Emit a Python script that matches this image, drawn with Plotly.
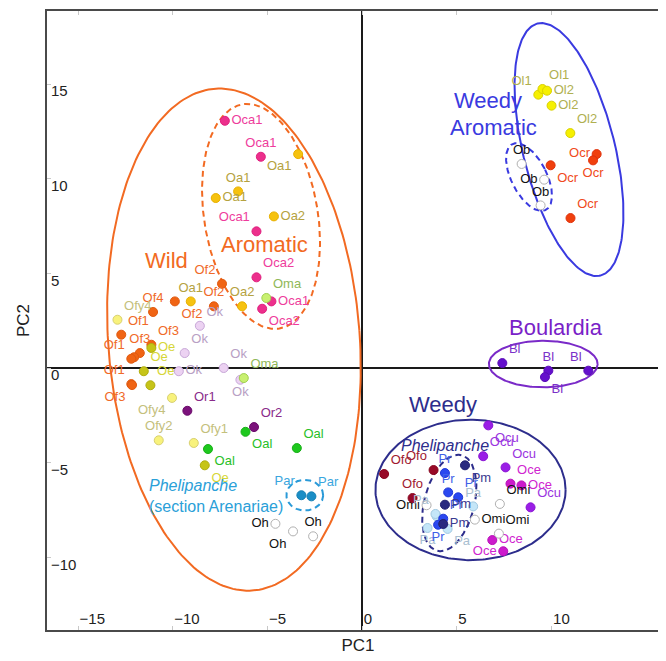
import numpy as np
import plotly.graph_objects as go

# ---------------- data (PC1, PC2) ----------------
oca_x = [-7.25, -5.35, -5.58, -5.58, -4.79, -5.28]
oca_y = [13.06, 11.16, 7.22, 4.79, 3.52, 3.13]
oca_lab = ["Oca1", "Oca1", "Oca1", "Oca2", "Oca1", "Oca2"]

oa_x = [-3.38, -6.55, -7.73, -4.66, -6.34, -9.05]
oa_y = [11.30, 9.33, 8.98, 8.01, 3.26, 3.52]
oa_lab = ["Oa1", "Oa1", "Oa1", "Oa2", "Oa2", "Oa1"]

of_x = [-7.40, -7.83, -11.04, -9.89, -12.72, -11.13, -11.74, -12.04, -12.19, -12.19, -12.15]
of_y = [4.45, 3.26, 2.96, 3.52, 1.76, 1.23, 0.79, 0.57, 0.49, -0.85, -0.90]
of_lab = ["Of2", "Of2", "Of4", "Of2", "Of1", "Of3", "Of3", "", "Of1", "Of1", "Of3"]

ofy_x = [-12.92, -10.04, -10.74, -8.89]
ofy_y = [2.55, -1.58, -3.82, -3.96]
ofy_lab = ["Ofy4", "Ofy4", "Ofy2", "Ofy1"]

oe_x = [-11.13, -11.53, -11.18, -8.31]
oe_y = [1.06, -0.17, -0.91, -5.14]
oe_lab = ["Oe", "Oe", "Oe", "Oe"]

ok_x = [-8.57, -9.37, -9.68, -7.31, -6.43]
ok_y = [2.23, 0.79, -0.17, 0.00, -0.62]
ok_lab = ["Ok", "Ok", "Ok", "Ok", "Ok"]

oma_x = [-5.06, -6.25]
oma_y = [3.70, -0.53]
oma_lab = ["Oma", "Oma"]

or_x = [-9.23, -5.71]
or_y = [-2.26, -3.12]
or_lab = ["Or1", "Or2"]

oal_x = [-6.16, -8.14, -3.45]
oal_y = [-3.37, -4.28, -4.23]
oal_lab = ["Oal", "Oal", "Oal"]

par_x = [-3.21, -2.68]
par_y = [-6.72, -6.78]
par_lab = ["Par", "Par"]

oh_x = [-4.58, -3.65, -2.59]
oh_y = [-8.23, -8.63, -8.89]
oh_lab = ["Oh", "Oh", "Oh"]

ol_x = [9.30, 9.52, 9.76, 10.00, 10.99]
ol_y = [14.44, 14.74, 14.65, 13.86, 12.41]
ol_lab = ["Ol1", "Ol1", "Ol2", "Ol2", "Ol2"]

ocr_x = [12.38, 12.19, 9.95, 11.00]
ocr_y = [11.30, 10.97, 10.71, 7.92]
ocr_lab = ["Ocr", "Ocr", "Ocr", "Ocr"]

ob_x = [8.42, 9.61, 9.42]
ob_y = [10.78, 9.95, 8.59]
ob_lab = ["Ob", "Ob", "Ob"]

bl_x = [7.40, 9.83, 9.65, 11.94]
bl_y = [0.26, -0.14, -0.48, -0.14]
bl_lab = ["Bl", "Bl", "Bl", "Bl"]

ocu_x = [6.66, 6.39, 7.57, 8.89]
ocu_y = [-3.03, -4.66, -5.25, -7.36]
ocu_lab = ["Ocu", "Ocu", "Ocu", "Ocu"]

oce_x = [7.83, 8.41, 6.87, 7.45]
oce_y = [-6.11, -6.20, -9.09, -9.68]
oce_lab = ["Oce", "Oce", "Oce", "Oce"]

omi_x = [7.27, 5.95, 7.22, 3.40]
omi_y = [-7.18, -8.01, -8.75, -7.25]
omi_lab = ["Omi", "Omi", "Omi", "Omi"]

ofo_x = [1.16, 3.77, 2.66]
ofo_y = [-5.60, -5.39, -6.87]
ofo_lab = ["Ofo", "Ofo", "Ofo"]

pa_x = [5.86, 3.93, 3.87, 3.45, 4.51]
pa_y = [-7.31, -7.83, -7.71, -8.45, -8.50]
pa_lab = ["Pa", "", "Pa", "Pa", "Pa"]

pr_x = [4.37, 4.54, 5.07, 4.28, 4.01]
pr_y = [-5.55, -6.57, -6.83, -7.96, -8.28]
pr_lab = ["Pr", "Pr", "Pr", "Pr", "Pr"]

pm_x = [5.43, 4.37, 4.28]
pm_y = [-5.14, -7.22, -8.24]
pm_lab = ["Pm", "Pm", "Pm"]

x_ticks = [-15, -10, -5, 0, 5, 10]
y_ticks = [-10, -5, 0, 5, 10, 15]

# ---------------- styles ----------------
FONT = "Liberation Sans, Arial, sans-serif"

groups = [
    # x, y, labels, fill, outline, label colour, text positions
    (oca_x, oca_y, oca_lab, "#ec2f8c", "#e0207e", "#ee3c9c",
     ["middle right", "top center", "top left", "top right", "middle right", "bottom right"]),
    (oa_x, oa_y, oa_lab, "#f6c20f", "#e8b000", "#b5a240",
     ["bottom left", "top center", "middle right", "middle right", "top center", "top center"]),
    (of_x, of_y, of_lab, "#f06414", "#e05a10", "#f06a28",
     ["top left", "top center", "top center", "bottom right", "top right", "top right",
      "top center", "top center", "top left", "top left", "bottom left"]),
    (ofy_x, ofy_y, ofy_lab, "#f8f27c", "#d8d070", "#c4c07c",
     ["top right", "bottom left", "top center", "top right"]),
    (oe_x, oe_y, oe_lab, "#c6c418", "#b0ae10", "#d6d638",
     ["middle right", "top right", "top right", "bottom right"]),
    (ok_x, ok_y, ok_lab, "#ecd2f2", "#c8a8d8", "#b8a0c4",
     ["top right", "top right", "middle right", "top right", "bottom center"]),
    (oma_x, oma_y, oma_lab, "#c8f070", "#a0d050", "#90b858",
     ["top right", "top right"]),
    (or_x, or_y, or_lab, "#7b127b", "#6a0a6a", "#8a2a8a",
     ["top right", "top right"]),
    (oal_x, oal_y, oal_lab, "#1ec81e", "#18b018", "#28c028",
     ["bottom right", "bottom right", "top right"]),
    (par_x, par_y, par_lab, "#1a8ec6", "#1680b4", "#3aa6de",
     ["top left", "top right"]),
    (oh_x, oh_y, oh_lab, "#ffffff", "#b0b0b0", "#111111",
     ["middle left", "bottom left", "top center"]),
    (ol_x, ol_y, ol_lab, "#f6f000", "#d8d000", "#b0b050",
     ["top left", "top right", "middle right", "middle right", "top right"]),
    (ocr_x, ocr_y, ocr_lab, "#f0400e", "#e0300a", "#f04a20",
     ["middle left", "bottom center", "bottom right", "top right"]),
    (ob_x, ob_y, ob_lab, "#ffffff", "#b0b0b0", "#111111",
     ["top center", "middle left", "top center"]),
    (bl_x, bl_y, bl_lab, "#6410cc", "#5a0cb8", "#7a30c8",
     ["top right", "top center", "bottom right", "top left"]),
    (ocu_x, ocu_y, ocu_lab, "#9a1ee6", "#8a14d4", "#9a34e0",
     ["bottom right", "top right", "top right", "top right"]),
    (oce_x, oce_y, oce_lab, "#cc1acc", "#b810b8", "#d024d0",
     ["top right", "middle right", "middle right", "middle left"]),
    (omi_x, omi_y, omi_lab, "#ffffff", "#b0b0b0", "#111111",
     ["top right", "middle right", "top right", "middle left"]),
    (ofo_x, ofo_y, ofo_lab, "#980a28", "#88061e", "#a01830",
     ["top right", "top left", "top center"]),
    (pa_x, pa_y, pa_lab, "#c4e6f8", "#a0c8e0", "#a8bed0",
     ["top center", "top left", "top left", "bottom center", "bottom right"]),
    (pr_x, pr_y, pr_lab, "#2a48f0", "#2038d8", "#4060e8",
     ["top center", "top center", "top right", "top right", "bottom center"]),
    (pm_x, pm_y, pm_lab, "#2a2a80", "#202070", "#3a3a90",
     ["bottom right", "middle right", "middle right"]),
]

# ellipses: centre x, centre y, semi-axis x, semi-axis y, rotation (deg, ccw), colour, dash, width
ellipses = [
    (-6.77, 1.50, 6.64, 13.29, 4.3, "#f26a22", "solid", 2),      # Wild
    (-5.34, 8.01, 3.00, 6.00, 9.3, "#f26a22", "6px,4px", 2),     # Aromatic
    (10.92, 11.54, 2.42, 6.86, 14.0, "#3a3ae0", "solid", 2),     # Weedy aromatic
    (8.81, 10.09, 0.935, 1.95, 26.8, "#3a3ae0", "6px,4px", 2),   # Ob
    (9.56, 0.21, 2.87, 1.23, 0.0, "#7a2ac8", "solid", 2),        # Boulardia
    (5.72, -6.44, 5.02, 3.71, 0.0, "#2d2d8c", "solid", 2),       # Weedy
    (4.60, -7.13, 1.32, 2.61, -14.2, "#2d2d8c", "6px,4px", 2),   # Phelipanche
    (-3.03, -6.72, 0.97, 0.81, 0.0, "#2a9ad8", "6px,4px", 2),    # Par
]

fig = go.Figure()

t = np.linspace(0, 2 * np.pi, 241)
for cx, cy, a, b, th, col, dash, w in ellipses:
    r = np.deg2rad(th)
    ex = cx + a * np.cos(t) * np.cos(r) - b * np.sin(t) * np.sin(r)
    ey = cy + a * np.cos(t) * np.sin(r) + b * np.sin(t) * np.cos(r)
    fig.add_trace(go.Scatter(x=ex, y=ey, mode="lines",
                             line=dict(color=col, width=w, dash=dash),
                             hoverinfo="skip", showlegend=False))

for gx, gy, glab, fill, outl, lcol, tpos in groups:
    fig.add_trace(go.Scatter(
        x=gx, y=gy, mode="markers+text", text=glab, textposition=tpos,
        textfont=dict(family=FONT, size=13, color=lcol),
        marker=dict(size=9, color=fill, line=dict(color=outl, width=1)),
        showlegend=False, cliponaxis=False))

ann = [
    (-10.34, 5.67, "Wild", "#f26a22", 22),
    (-5.14, 6.51, "Aromatic", "#f26a22", 22),
    (6.66, 14.12, "Weedy", "#3a3ae0", 22),
    (6.92, 12.68, "Aromatic", "#3a3ae0", 22),
    (10.23, 2.15, "Boulardia", "#7a1fc8", 22),
    (4.28, -1.94, "Weedy", "#2d2d8c", 22),
    (4.35, -4.08, "<i>Phelipanche</i>", "#2d2d8c", 16),
    (-8.93, -6.22, "<i>Phelipanche</i>", "#2aa0d8", 16),
    (-7.70, -7.31, "(section Arenariae)", "#2aa0d8", 16),
]
for ax_, ay_, txt, col, sz in ann:
    fig.add_annotation(x=ax_, y=ay_, text=txt, showarrow=False,
                       font=dict(family=FONT, size=sz, color=col),
                       xanchor="center", yanchor="middle")

axis_common = dict(
    showgrid=False, zeroline=True, zerolinecolor="#1a1a1a", zerolinewidth=2,
    showline=True, linecolor="#4a4a4a", linewidth=2, mirror="ticks",
    ticks="inside", ticklen=4, tickcolor="#c8c8c8", tickwidth=1,
    tickfont=dict(family=FONT, size=15, color="#222222"),
)

fig.update_xaxes(range=[-16.64, 16.2], tickvals=x_ticks,
                 ticklabelposition="inside right",
                 title=dict(text="PC1", font=dict(family=FONT, size=17, color="#222"), standoff=13),
                 **axis_common)
fig.update_yaxes(range=[-13.84, 18.86], tickvals=y_ticks,
                 ticklabelposition="inside bottom", ticklabelshift=-4, ticklabelstandoff=3,
                 title=dict(text="PC2", font=dict(family=FONT, size=17, color="#222"), standoff=17),
                 **axis_common)

fig.update_layout(
    width=666, height=661,
    margin=dict(l=39, r=5, t=3, b=39, autoexpand=False),
    plot_bgcolor="white", paper_bgcolor="white",
    showlegend=False,
)

fig.write_html("out.html")
